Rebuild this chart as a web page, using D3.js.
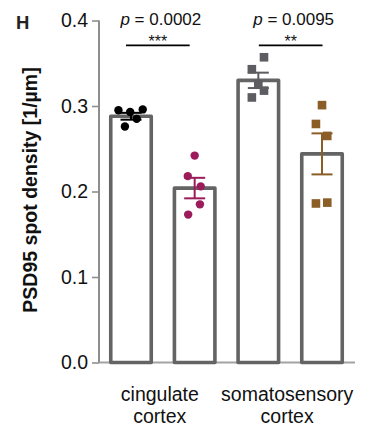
<!DOCTYPE html>
<html>
<head>
<meta charset="utf-8">
<script src="https://cdn.jsdelivr.net/npm/d3@7"></script>
<style>
  html, body { margin: 0; padding: 0; background: #fff; }
  svg { display: block; font-family: "Liberation Sans", Arial, sans-serif; }
</style>
</head>
<body>
<svg id="chart" width="377" height="430"></svg>
<script>
// PSD95 spot density per region and group
const bars = ["cing-A", "cing-B", "soma-A", "soma-B"];
const regions = ["cingulate\ncortex", "somatosensory\ncortex"];
const means = [0.288, 0.204, 0.330, 0.244];
const sems = [0.004, 0.012, 0.009, 0.024];
const points = [
  [0.295, 0.293, 0.296, 0.285, 0.276],
  [0.242, 0.218, 0.206, 0.185, 0.173],
  [0.357, 0.343, 0.325, 0.318, 0.310],
  [0.301, 0.279, 0.265, 0.186, 0.187]
];
const yTicks = [0.0, 0.1, 0.2, 0.3, 0.4];
const pLabels = ["0.0002", "0.0095"];
const stars = ["***", "**"];

// horizontal spread of the dots, as fractions of bar width
const spread = [
  [-0.31, -0.02, 0.29, 0.14, -0.15],
  [0.0, -0.17, 0.15, 0.13, -0.16],
  [0.14, -0.16, 0.0, 0.14, -0.16],
  [0.0, -0.15, 0.13, -0.15, 0.13]
];
const colors = ["#000000", "#9c1c5b", "#5c5c61", "#8b5d27"];
const shapes = ["circle", "circle", "square", "square"];

const svg = d3.select("#chart");
const font = "'Liberation Sans', Arial, sans-serif";

const y = d3.scaleLinear().domain([0, 0.4]).range([362.5, 20.5]);
const x = d3.scaleBand().domain(bars).range([110.75, 342.25])
  .paddingInner(0.364).paddingOuter(0);
const bw = x.bandwidth();
const cx = b => x(b) + bw / 2;

// baseline across all bars
svg.append("line")
  .attr("x1", 99).attr("x2", 355)
  .attr("y1", y(0)).attr("y2", y(0))
  .attr("stroke", "#a3a3a3").attr("stroke-width", 2);

// y axis
const yAxis = d3.axisLeft(y).tickValues(yTicks).tickFormat(d3.format(".1f"))
  .tickSize(7).tickPadding(4);
const ga = svg.append("g").attr("transform", "translate(99,0)").call(yAxis);
ga.select(".domain").attr("stroke", "#8e8e8e").attr("stroke-width", 2)
  .attr("d", `M0,${y(0.4)}V${y(0)}`);
ga.selectAll(".tick line").attr("stroke", "#8e8e8e").attr("stroke-width", 1.6);
ga.selectAll(".tick text").attr("font-size", 19.5).attr("fill", "#111")
  .attr("font-family", font);

// axis title
svg.append("text")
  .attr("transform", `translate(37,190) rotate(-90)`)
  .attr("text-anchor", "middle")
  .attr("font-size", 19.5).attr("font-weight", "bold").attr("fill", "#111")
  .text("PSD95 spot density [1/µm]");

// panel letter
svg.append("text").attr("x", 16).attr("y", 28.5)
  .attr("font-size", 18.5).attr("font-weight", "bold").attr("fill", "#222")
  .text("H");

// bars
svg.selectAll("rect.bar").data(bars).join("rect")
  .attr("class", "bar")
  .attr("x", d => x(d)).attr("width", bw)
  .attr("y", (d, i) => y(means[i]))
  .attr("height", (d, i) => y(0) - y(means[i]))
  .attr("fill", "#fff").attr("stroke", "#646464").attr("stroke-width", 3.6)
  .attr("stroke-linejoin", "round");

// error bars (mean ± SEM)
const capW = 21;
bars.forEach((b, i) => {
  const g = svg.append("g").attr("stroke", colors[i]).attr("stroke-width", 2);
  const lo = y(means[i] - sems[i]), hi = y(means[i] + sems[i]);
  g.append("line").attr("x1", cx(b)).attr("x2", cx(b)).attr("y1", lo).attr("y2", hi);
  g.append("line").attr("x1", cx(b) - capW / 2).attr("x2", cx(b) + capW / 2).attr("y1", lo).attr("y2", lo);
  g.append("line").attr("x1", cx(b) - capW / 2).attr("x2", cx(b) + capW / 2).attr("y1", hi).attr("y2", hi);
});

// individual animals
bars.forEach((b, i) => {
  const data = points[i].map((v, j) => ({ v, dx: spread[i][j] * bw }));
  if (shapes[i] === "circle") {
    svg.append("g").selectAll("circle").data(data).join("circle")
      .attr("cx", d => cx(b) + d.dx).attr("cy", d => y(d.v))
      .attr("r", 4.2).attr("fill", colors[i]);
  } else {
    const s = 8.6;
    svg.append("g").selectAll("rect").data(data).join("rect")
      .attr("x", d => cx(b) + d.dx - s / 2).attr("y", d => y(d.v) - s / 2)
      .attr("width", s).attr("height", s).attr("fill", colors[i]);
  }
});

// significance brackets
const comps = [[0, 1, -5], [2, 3, 0.5]];
comps.forEach(([a, c, shift], k) => {
  const x1 = cx(bars[a]) + shift, x2 = cx(bars[c]) + shift;
  const mid = (x1 + x2) / 2;
  svg.append("line").attr("x1", x1).attr("x2", x2).attr("y1", 45.3).attr("y2", 45.3)
    .attr("stroke", "#000").attr("stroke-width", 1.8);
  svg.append("text").attr("x", mid).attr("y", 47).attr("text-anchor", "middle")
    .attr("font-size", 16).attr("fill", "#111").text(stars[k]);
  const t = svg.append("text").attr("x", mid + 3).attr("y", 25)
    .attr("text-anchor", "middle").attr("font-size", 17).attr("fill", "#111");
  t.append("tspan").attr("font-style", "italic").text("p");
  t.append("tspan").text(" = " + pLabels[k]);
});

// region labels
regions.forEach((r, k) => {
  const mid = (cx(bars[2 * k]) + cx(bars[2 * k + 1])) / 2 - 3;
  const t = svg.append("text").attr("text-anchor", "middle")
    .attr("font-size", 19.5).attr("fill", "#111");
  r.split("\n").forEach((line, li) => {
    t.append("tspan").attr("x", mid).attr("y", 401 + li * 21.5).text(line);
  });
});
</script>
</body>
</html>
